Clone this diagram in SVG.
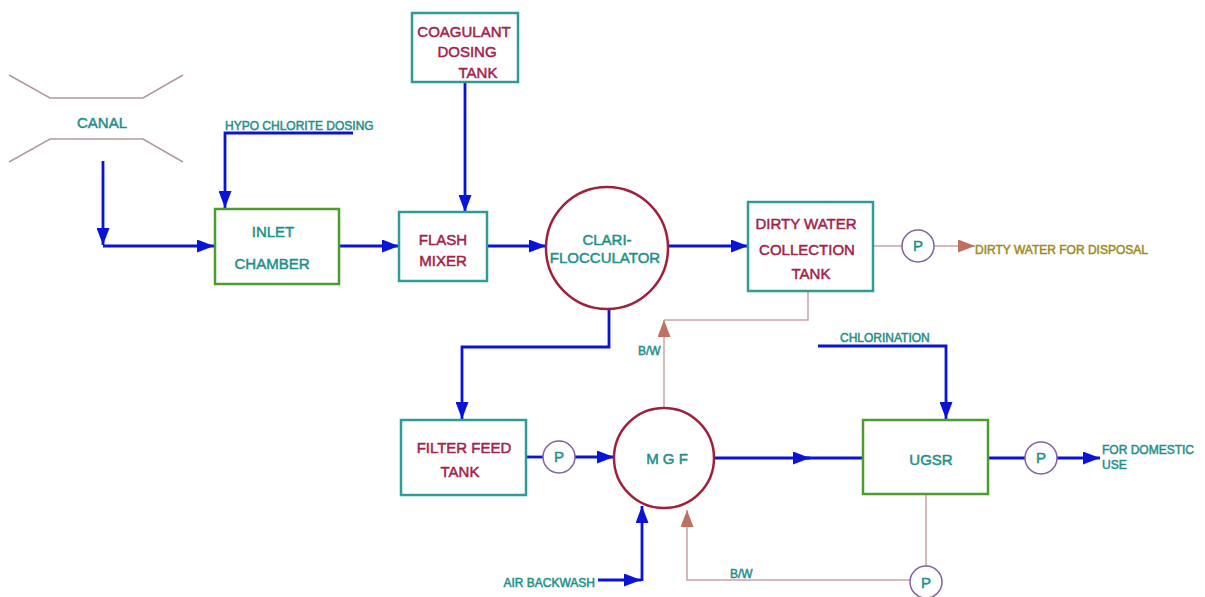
<svg xmlns="http://www.w3.org/2000/svg" width="1205" height="597" viewBox="0 0 1205 597">
<style>
text{font-family:"Liberation Sans",Arial,sans-serif;stroke-width:0.5;}
.lg{font-size:15px;}
.sm{font-size:12px;}
.teal{fill:#1f8f8a;stroke:#1f8f8a;}
.red{fill:#a3224a;stroke:#a3224a;}
.gold{fill:#a08a20;stroke:#a08a20;}
.boxT{fill:#fff;stroke:#2e9c96;stroke-width:2.5;}
.boxG{fill:#fff;stroke:#4c9c2e;stroke-width:2.5;}
.circ{fill:#fff;stroke:#a0203c;stroke-width:2.5;}
.pump{fill:#fff;stroke:#8060a0;stroke-width:1.5;}
.blue{fill:none;stroke:#0a14d6;stroke-width:2.8;}
.bw{fill:none;stroke:#c4a4a4;stroke-width:1.5;}
.canal{fill:none;stroke:#b09a9a;stroke-width:1.5;}
</style>
<defs>
<marker id="ab" markerWidth="17" markerHeight="13" refX="17" refY="6.5" orient="auto" markerUnits="userSpaceOnUse"><path d="M0,0 L17,6.5 L0,13 z" fill="#0a14d6"/></marker>
<marker id="ar" markerWidth="17" markerHeight="13" refX="17" refY="6.5" orient="auto" markerUnits="userSpaceOnUse"><path d="M0,0 L17,6.5 L0,13 z" fill="#c07060"/></marker>
</defs>
<rect width="1205" height="597" fill="#fff"/>

<g id="connectors">
<polyline class="blue" points="103,161 103,245" marker-end="url(#ab)"/>
<polyline class="blue" points="103,246 214,246" marker-end="url(#ab)"/>
<polyline class="blue" points="353,133 225,133 225,208" marker-end="url(#ab)"/>
<polyline class="blue" points="340,246 399,246" marker-end="url(#ab)"/>
<polyline class="blue" points="465,82 465,212" marker-end="url(#ab)"/>
<polyline class="blue" points="487,246 546,246" marker-end="url(#ab)"/>
<polyline class="blue" points="669,246 748,246" marker-end="url(#ab)"/>
<line class="bw" x1="873" y1="246" x2="902" y2="246"/>
<polyline class="bw" points="934,246 975,246" marker-end="url(#ar)"/>
<polyline class="bw" points="808,291 808,320 664,320"/>
<polyline class="bw" points="664,407 664,320" marker-end="url(#ar)"/>
<polyline class="blue" points="609,310 609,347 462,347 462,419" marker-end="url(#ab)"/>
<line class="blue" x1="526" y1="457" x2="543" y2="457"/>
<polyline class="blue" points="575,457 614,457" marker-end="url(#ab)"/>
<polyline class="blue" points="598,580 641,580" marker-end="url(#ab)"/>
<polyline class="blue" points="642,581 642,506" marker-end="url(#ab)"/>
<polyline class="bw" points="910,580 687,580 687,510" marker-end="url(#ar)"/>
<line class="bw" x1="926" y1="494" x2="926" y2="566"/>
<polyline class="blue" points="714,458 810,458" marker-end="url(#ab)"/>
<line class="blue" x1="805" y1="458" x2="863" y2="458"/>
<polyline class="blue" points="818,346 946,346 946,419" marker-end="url(#ab)"/>
<line class="blue" x1="988" y1="458" x2="1025" y2="458"/>
<polyline class="blue" points="1057,458 1100,458" marker-end="url(#ab)"/>
</g>

<g id="canal">
<polyline class="canal" points="9,75 50,98 143,98 183,75"/>
<polyline class="canal" points="9,162 50,139 143,139 183,162"/>
<text class="lg teal" x="102" y="128" text-anchor="middle">CANAL</text>
</g>

<g id="hypo">
<text class="sm teal" x="225" y="130">HYPO CHLORITE DOSING</text>
</g>

<g id="inlet">
<rect class="boxG" x="215" y="209" width="124" height="75"/>
<text class="lg teal" x="273" y="237" text-anchor="middle">INLET</text>
<text class="lg teal" x="272" y="269" text-anchor="middle">CHAMBER</text>
</g>

<g id="coagulant">
<rect class="boxT" x="412" y="13" width="106" height="69"/>
<text class="lg red" x="464" y="37" text-anchor="middle">COAGULANT</text>
<text class="lg red" x="467" y="57" text-anchor="middle">DOSING</text>
<text class="lg red" x="478" y="78" text-anchor="middle">TANK</text>
</g>

<g id="flash">
<rect class="boxT" x="399" y="212" width="88" height="69"/>
<text class="lg red" x="443" y="245" text-anchor="middle">FLASH</text>
<text class="lg red" x="443" y="266" text-anchor="middle">MIXER</text>
</g>

<g id="clari">
<circle class="circ" cx="607" cy="248" r="61"/>
<text class="lg teal" x="607" y="245" text-anchor="middle">CLARI-</text>
<text class="lg teal" x="605" y="263" text-anchor="middle">FLOCCULATOR</text>
</g>

<g id="dirty">
<rect class="boxT" x="748" y="202" width="125" height="89"/>
<text class="lg red" x="806" y="229" text-anchor="middle">DIRTY WATER</text>
<text class="lg red" x="807" y="255" text-anchor="middle">COLLECTION</text>
<text class="lg red" x="811" y="279" text-anchor="middle">TANK</text>
</g>

<g id="pump1">
<circle class="pump" cx="918" cy="246" r="16"/>
<text class="lg teal" x="918" y="251" text-anchor="middle">P</text>
</g>

<g id="disposal">
<text class="sm gold" x="975" y="254">DIRTY WATER FOR DISPOSAL</text>
</g>

<g id="bw1">
<text class="sm teal" x="638" y="355">B/W</text>
</g>

<g id="filterfeed">
<rect class="boxT" x="401" y="420" width="125" height="75"/>
<text class="lg red" x="464" y="453" text-anchor="middle">FILTER FEED</text>
<text class="lg red" x="460" y="477" text-anchor="middle">TANK</text>
</g>

<g id="pump2">
<circle class="pump" cx="559" cy="457" r="16"/>
<text class="lg teal" x="559" y="462" text-anchor="middle">P</text>
</g>

<g id="mgf">
<circle class="circ" cx="664" cy="458" r="50"/>
<text class="lg teal" x="667" y="464" text-anchor="middle">M G F</text>
</g>

<g id="air">
<text class="sm teal" x="595" y="587" text-anchor="end">AIR BACKWASH</text>
</g>

<g id="chlorination">
<text class="sm teal" x="840" y="342">CHLORINATION</text>
</g>

<g id="ugsr">
<rect class="boxG" x="863" y="420" width="125" height="74"/>
<text class="lg teal" x="931" y="465" text-anchor="middle">UGSR</text>
</g>

<g id="pump3">
<circle class="pump" cx="1041" cy="458" r="16"/>
<text class="lg teal" x="1041" y="463" text-anchor="middle">P</text>
</g>

<g id="domestic">
<text class="sm teal" x="1102" y="454">FOR DOMESTIC</text>
<text class="sm teal" x="1102" y="469">USE</text>
</g>

<g id="pump4">
<circle class="pump" cx="926" cy="582" r="16"/>
<text class="lg teal" x="926" y="588" text-anchor="middle">P</text>
</g>

<g id="bw2">
<text class="sm teal" x="730" y="578">B/W</text>
</g>
</svg>
